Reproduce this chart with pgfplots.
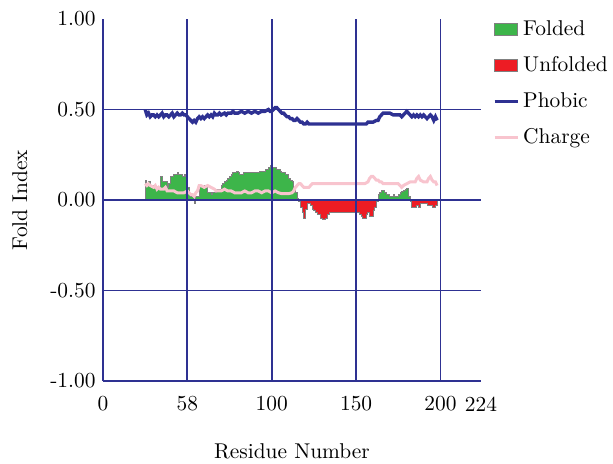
\documentclass[border=0pt]{standalone}
\usepackage{pgfplots}
\pgfplotsset{compat=1.18}
\usepackage{pgfplotstable}

\definecolor{navy}{RGB}{46,49,146}
\definecolor{fgreen}{RGB}{61,181,74}
\definecolor{fred}{RGB}{237,28,36}
\definecolor{fpink}{RGB}{248,196,206}
\definecolor{edgegray}{RGB}{128,128,128}

\pgfplotsset{
    patchlegend/.style={legend image code/.code={\draw[##1] (0pt,-3pt) rectangle (11.5pt,3pt);}},
    linelegend/.style={legend image code/.code={\draw[##1] (0pt,0pt) -- (11.5pt,0pt);}},
}

% fold index: residue, positive part, negative part
\pgfplotstableread[row sep=\\]{
r p n\\
25 0.11 0\\ 26 0.09 0\\ 27 0.10 0\\ 28 0.08 0\\ 29 0.08 0\\ 30 0.08 0\\
31 0.07 0\\ 32 0.07 0\\ 33 0.07 0\\ 34 0.13 0\\ 35 0.10 0\\ 36 0.10 0\\
37 0.10 0\\ 38 0.07 0\\ 39 0.09 0\\ 40 0.13 0\\ 41 0.13 0\\ 42 0.14 0\\
43 0.14 0\\ 44 0.15 0\\ 45 0.14 0\\ 46 0.14 0\\ 47 0.13 0\\ 48 0.14 0\\
49 0.13 0\\ 50 0.07 0\\ 51 0.03 0\\ 52 0.02 0\\ 53 0.02 0\\ 54 0 -0.02\\
55 0.02 0\\ 56 0.02 0\\ 57 0.08 0\\ 58 0.08 0\\ 59 0.07 0\\ 60 0.08 0\\
61 0.08 0\\ 62 0.04 0\\ 63 0.04 0\\ 64 0.03 0\\ 65 0.04 0\\ 66 0.04 0\\
67 0.06 0\\ 68 0.06 0\\ 69 0.06 0\\ 70 0.08 0\\ 71 0.09 0\\ 72 0.10 0\\
73 0.11 0\\ 74 0.12 0\\ 75 0.13 0\\ 76 0.14 0\\ 77 0.15 0\\ 78 0.15 0\\
79 0.16 0\\ 80 0.15 0\\ 81 0.14 0\\ 82 0.14 0\\ 83 0.15 0\\ 84 0.15 0\\
85 0.15 0\\ 86 0.15 0\\ 87 0.15 0\\ 88 0.15 0\\ 89 0.15 0\\ 90 0.15 0\\
91 0.15 0\\ 92 0.15 0\\ 93 0.16 0\\ 94 0.16 0\\ 95 0.16 0\\ 96 0.17 0\\
97 0.17 0\\ 98 0.18 0\\ 99 0.19 0\\ 100 0.18 0\\ 101 0.18 0\\ 102 0.18 0\\
103 0.17 0\\ 104 0.17 0\\ 105 0.16 0\\ 106 0.15 0\\ 107 0.15 0\\ 108 0.14 0\\
109 0.14 0\\ 110 0.12 0\\ 111 0.11 0\\ 112 0.10 0\\ 113 0.07 0\\ 114 0.04 0\\
115 0.01 0\\ 116 0 -0.01\\ 117 0 -0.04\\ 118 0 -0.07\\ 119 0 -0.10\\ 120 0 -0.05\\
121 0 -0.02\\ 122 0 -0.02\\ 123 0 -0.03\\ 124 0 -0.05\\ 125 0 -0.06\\ 126 0 -0.07\\
127 0 -0.08\\ 128 0 -0.08\\ 129 0 -0.10\\ 130 0 -0.11\\ 131 0 -0.11\\ 132 0 -0.10\\
133 0 -0.08\\ 134 0 -0.07\\ 136 0 -0.07\\ 138 0 -0.07\\ 140 0 -0.07\\ 142 0 -0.07\\
144 0 -0.07\\ 146 0 -0.07\\ 148 0 -0.07\\ 150 0 -0.07\\ 151 0 -0.07\\ 152 0 -0.08\\
153 0 -0.09\\ 154 0 -0.10\\ 155 0 -0.10\\ 156 0 -0.08\\ 157 0 -0.07\\ 158 0 -0.09\\
159 0 -0.09\\ 160 0 -0.06\\ 161 0 -0.04\\ 162 0 -0.01\\ 163 0.03 0\\ 164 0.04 0\\
165 0.05 0\\ 166 0.055 0\\ 167 0.04 0\\ 168 0.03 0\\ 169 0.03 0\\ 170 0.02 0\\
171 0.02 0\\ 172 0.03 0\\ 173 0.02 0\\ 174 0.02 0\\ 175 0.03 0\\ 176 0.04 0\\
177 0.045 0\\ 178 0.05 0\\ 179 0.06 0\\ 180 0.065 0\\ 181 0.02 0\\ 182 0 -0.01\\
183 0 -0.04\\ 184 0 -0.04\\ 185 0 -0.04\\ 186 0 -0.03\\ 187 0 -0.04\\ 188 0 -0.02\\
189 0 -0.02\\ 190 0 -0.02\\ 191 0 -0.02\\ 192 0 -0.03\\ 193 0 -0.03\\ 194 0 -0.03\\
195 0 -0.04\\ 196 0 -0.04\\ 197 0 -0.03\\ 198 0 -0.01\\
}\fold

\pgfplotstableread[row sep=\\]{
r v\\
25 0.50\\ 26 0.47\\ 27 0.48\\ 28 0.46\\ 29 0.47\\ 30 0.47\\ 31 0.46\\ 32 0.47\\
33 0.46\\ 34 0.47\\ 35 0.48\\ 36 0.46\\ 37 0.47\\ 38 0.47\\ 39 0.46\\ 40 0.47\\
41 0.48\\ 42 0.46\\ 43 0.47\\ 44 0.48\\ 45 0.47\\ 46 0.47\\ 47 0.48\\ 48 0.47\\
49 0.47\\ 50 0.46\\ 51 0.45\\ 52 0.44\\ 53 0.43\\ 54 0.44\\ 55 0.43\\ 56 0.45\\
57 0.46\\ 58 0.45\\ 59 0.46\\ 60 0.45\\ 61 0.46\\ 62 0.47\\ 63 0.46\\ 64 0.47\\
65 0.46\\ 66 0.48\\ 67 0.47\\ 68 0.47\\ 69 0.48\\ 70 0.47\\ 72 0.48\\ 73 0.47\\
74 0.48\\ 76 0.48\\ 77 0.49\\ 78 0.48\\ 80 0.48\\ 82 0.49\\ 84 0.48\\ 86 0.49\\
88 0.48\\ 90 0.49\\ 92 0.48\\ 94 0.49\\ 96 0.49\\ 98 0.50\\ 99 0.49\\ 100 0.49\\
101 0.50\\ 102 0.51\\ 103 0.51\\ 104 0.50\\ 105 0.49\\ 106 0.48\\ 107 0.48\\ 108 0.47\\
109 0.46\\ 110 0.46\\ 111 0.45\\ 112 0.45\\ 113 0.44\\ 114 0.44\\ 115 0.45\\ 116 0.44\\
117 0.43\\ 118 0.43\\ 119 0.42\\ 120 0.42\\ 121 0.43\\ 122 0.42\\ 130 0.42\\ 140 0.42\\
150 0.42\\ 156 0.42\\ 157 0.43\\ 160 0.43\\ 162 0.44\\ 163 0.44\\ 164 0.46\\ 165 0.47\\
166 0.48\\ 170 0.48\\ 172 0.47\\ 176 0.47\\ 177 0.46\\ 178 0.47\\ 179 0.48\\ 180 0.49\\
181 0.48\\ 182 0.47\\ 183 0.46\\ 184 0.47\\ 185 0.46\\ 186 0.47\\ 187 0.46\\ 188 0.47\\
189 0.46\\ 190 0.47\\ 191 0.46\\ 192 0.45\\ 193 0.46\\ 194 0.47\\ 195 0.46\\ 196 0.44\\
197 0.46\\ 198 0.44\\
}\phobic

\pgfplotstableread[row sep=\\]{
r v\\
25 0.09\\ 26 0.08\\ 27 0.09\\ 28 0.08\\ 30 0.07\\ 31 0.08\\ 32 0.06\\ 33 0.07\\
34 0.06\\ 36 0.06\\ 37 0.07\\ 38 0.05\\ 40 0.05\\ 42 0.05\\ 44 0.04\\ 46 0.04\\
48 0.04\\ 50 0.05\\ 51 0.04\\ 52 0.03\\ 53 0.03\\ 54 0.02\\ 55 0.04\\ 56 0.05\\
57 0.08\\ 58 0.08\\ 60 0.07\\ 62 0.08\\ 64 0.07\\ 66 0.06\\ 67 0.05\\ 70 0.05\\
72 0.06\\ 74 0.05\\ 76 0.05\\ 78 0.04\\ 82 0.04\\ 84 0.05\\ 86 0.04\\ 88 0.04\\
90 0.05\\ 92 0.05\\ 94 0.04\\ 96 0.05\\ 98 0.05\\ 100 0.04\\ 102 0.05\\ 104 0.04\\
106 0.035\\ 110 0.035\\ 112 0.04\\ 113 0.05\\ 114 0.07\\ 115 0.08\\ 116 0.09\\ 117 0.09\\
118 0.08\\ 119 0.07\\ 122 0.07\\ 123 0.08\\ 124 0.09\\ 140 0.09\\ 155 0.09\\ 157 0.10\\
158 0.12\\ 159 0.13\\ 160 0.13\\ 161 0.12\\ 162 0.11\\ 163 0.11\\ 164 0.10\\ 165 0.10\\
166 0.09\\ 175 0.09\\ 176 0.08\\ 177 0.07\\ 178 0.08\\ 180 0.09\\ 182 0.10\\ 185 0.10\\
186 0.12\\ 187 0.13\\ 188 0.11\\ 190 0.10\\ 192 0.10\\ 193 0.12\\ 194 0.13\\ 195 0.11\\
196 0.10\\ 197 0.10\\ 198 0.08\\
}\charge

\begin{document}
\fontsize{10.7pt}{13pt}\selectfont
\begin{tikzpicture}
\begin{axis}[
    scale only axis,
    width=189pt, height=181pt,
    xmin=0, xmax=224, ymin=-1, ymax=1,
    axis x line=bottom, axis y line=left,
    axis line style={-, navy, line width=1.1pt},
    axis on top,
    major tick length=0pt,
    xtick={0,50,100,150,200,224},
    xticklabels={0,58,100,150,200,224},
    ytick={-1,-0.5,0,0.5,1},
    yticklabels={-1.00,-0.50,0.00,0.50,1.00},
    extra x ticks={50,100,150,200}, extra x tick labels={},
    extra x tick style={grid=major},
    extra y ticks={-0.5,0,0.5}, extra y tick labels={},
    extra y tick style={grid=major},
    major grid style={navy, line width=0.9pt},
    xticklabel style={yshift=-4pt},
    xlabel={Residue Number},
    ylabel={Fold Index},
    xlabel style={at={(axis description cs:0.5,-0.152)}, anchor=north},
    ylabel style={at={(axis description cs:-0.22,0.5)}, anchor=center},
    legend cell align=left,
    legend style={at={(axis description cs:1,1)}, anchor=north west,
        xshift=2.7pt, yshift=3.5pt, draw=none, fill=none, row sep=5pt},
]
\addplot[const plot, fill=fgreen, draw=edgegray, line width=0.5pt, patchlegend]
    table[x=r, y=p] {\fold} \closedcycle;
\addlegendentry{Folded}
\addplot[const plot, fill=fred, draw=edgegray, line width=0.5pt, patchlegend]
    table[x=r, y=n] {\fold} \closedcycle;
\addlegendentry{Unfolded}
\addplot[navy, line width=1.7pt, linelegend]
    table[x=r, y=v] {\phobic};
\addlegendentry{Phobic}
\addplot[fpink, line width=1.5pt, linelegend]
    table[x=r, y=v] {\charge};
\addlegendentry{Charge}
\coordinate (bl) at (axis cs:0,-1);
\end{axis}
\pgfresetboundingbox
\path ([xshift=-51.5pt, yshift=-41pt]bl) rectangle ([xshift=255pt, yshift=190.5pt]bl);
\end{tikzpicture}
\end{document}
